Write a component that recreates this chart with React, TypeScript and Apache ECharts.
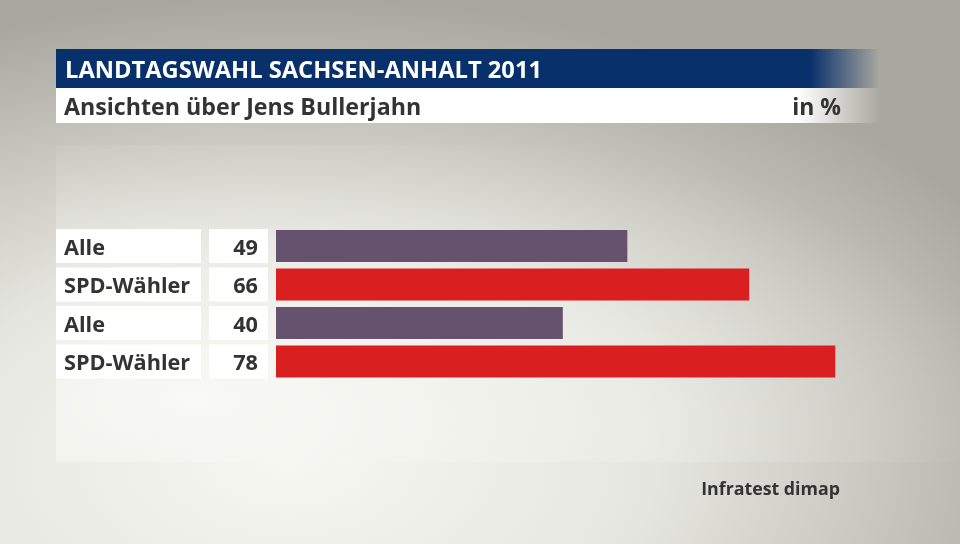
import React, { useEffect, useRef } from "react";
import * as echarts from "echarts";

const categories = ["Alle", "SPD-Wähler", "Alle", "SPD-Wähler"];
const values = [49, 66, 40, 78];
const barColors = ["#65526f", "#d91f1f", "#65526f", "#d91f1f"];
const titleText = "LANDTAGSWAHL SACHSEN-ANHALT 2011";
const subtitleText = "Ansichten über Jens Bullerjahn";
const unitText = "in %";
const sourceText = "Infratest dimap";

const FONT = "'Open Sans', 'Noto Sans', sans-serif";

export default function App() {
  const ref = useRef<HTMLDivElement>(null);
  useEffect(() => {
    if (!ref.current) return;
    const chart = echarts.init(ref.current, null, { renderer: "svg" });
    const idx = categories.map((_, i) => String(i));
    chart.setOption({
      animation: false,
      graphic: [
        {
          type: "rect",
          z: -10,
          shape: { x: 0, y: 0, width: 960, height: 544 },
          style: {
            fill: new echarts.graphic.RadialGradient(0.3, 0.85, 0.85, [
              { offset: 0, color: "#f7f7f2" },
              { offset: 0.45, color: "#e6e6e0" },
              { offset: 1, color: "#a9a89f" },
            ]),
          },
        },
        {
          type: "rect",
          z: -9,
          shape: { x: 56, y: 145, width: 904, height: 317 },
          style: {
            fill: new echarts.graphic.RadialGradient(0.15, 0.8, 0.9, [
              { offset: 0, color: "rgba(250,250,246,0.9)" },
              { offset: 0.6, color: "rgba(240,240,235,0.45)" },
              { offset: 1, color: "rgba(220,220,214,0)" },
            ]),
          },
        },
        {
          type: "rect",
          shape: { x: 56, y: 49, width: 824, height: 39 },
          style: {
            fill: new echarts.graphic.LinearGradient(0, 0, 1, 0, [
              { offset: 0, color: "#08306a" },
              { offset: 0.915, color: "#08306a" },
              { offset: 1, color: "rgba(8,48,106,0)" },
            ]),
          },
        },
        {
          type: "rect",
          shape: { x: 56, y: 88, width: 824, height: 35 },
          style: {
            fill: new echarts.graphic.LinearGradient(0, 0, 1, 0, [
              { offset: 0, color: "#ffffff" },
              { offset: 0.9, color: "#ffffff" },
              { offset: 1, color: "rgba(255,255,255,0)" },
            ]),
          },
        },
        {
          type: "text",
          x: 65,
          y: 69,
          style: {
            text: titleText,
            fill: "#ffffff",
            font: `bold 23.7px ${FONT}`,
            textVerticalAlign: "middle",
          },
        },
        {
          type: "text",
          x: 64,
          y: 106,
          style: {
            text: subtitleText,
            fill: "#333333",
            font: `bold 23.2px ${FONT}`,
            textVerticalAlign: "middle",
          },
        },
        {
          type: "text",
          x: 841,
          y: 106,
          style: {
            text: unitText,
            fill: "#333333",
            font: `bold 23px ${FONT}`,
            textAlign: "right",
            textVerticalAlign: "middle",
          },
        },
        {
          type: "text",
          x: 840,
          y: 488,
          style: {
            text: sourceText,
            fill: "#333333",
            font: `bold 17.8px ${FONT}`,
            textAlign: "right",
            textVerticalAlign: "middle",
          },
        },
      ],
      grid: { left: 276, right: 110.4, top: 226.75, height: 154, containLabel: false },
      xAxis: {
        type: "value",
        min: 0,
        max: 80,
        show: false,
      },
      yAxis: [
        {
          type: "category",
          data: idx,
          inverse: true,
          axisLine: { show: false },
          axisTick: { show: false },
          splitLine: { show: false },
          axisLabel: {
            margin: 75,
            formatter: (v: string) => `{a|${categories[Number(v)]}}`,
            rich: {
              a: {
                width: 137,
                height: 34,
                padding: [0, 0, 0, 8],
                backgroundColor: "#ffffff",
                color: "#333333",
                fontFamily: FONT,
                fontWeight: "bold",
                fontSize: 21.7,
                align: "left",
              },
            },
          },
        },
        {
          type: "category",
          data: idx,
          inverse: true,
          position: "left",
          axisLine: { show: false },
          axisTick: { show: false },
          splitLine: { show: false },
          axisLabel: {
            margin: 8,
            formatter: (v: string) => `{b|${values[Number(v)]}}`,
            rich: {
              b: {
                width: 49,
                height: 34,
                padding: [0, 10, 0, 0],
                backgroundColor: "#ffffff",
                color: "#333333",
                fontFamily: FONT,
                fontWeight: "bold",
                fontSize: 21.7,
                align: "right",
              },
            },
          },
        },
      ],
      series: [
        {
          type: "bar",
          yAxisIndex: 0,
          barWidth: 32,
          data: values.map((v, i) => ({ value: v, itemStyle: { color: barColors[i] } })),
        },
      ],
    });
    return () => chart.dispose();
  }, []);
  return (
    <div
      ref={ref}
      style={{ position: "fixed", left: 0, top: 0, width: 960, height: 544 }}
    />
  );
}
